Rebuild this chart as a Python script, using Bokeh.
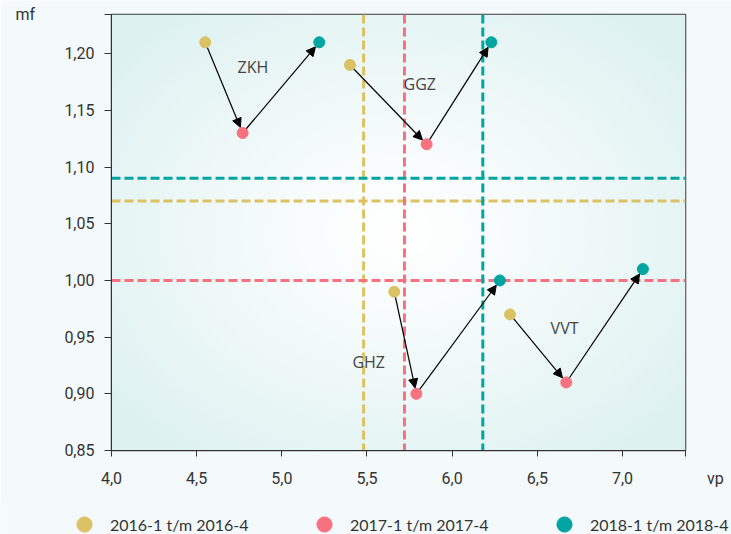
import numpy as np
from bokeh.plotting import figure
from bokeh.layouts import column
from bokeh.models import (Range1d, FixedTicker, Span, Arrow, NormalHead,
                          Legend, LegendItem, Plot)
from bokeh.core.properties import value
from bokeh.embed import file_html
from bokeh.resources import INLINE

# ---------------- data ----------------
groups = ["ZKH", "GGZ", "GHZ", "VVT"]
periods = ["2016-1 t/m 2016-4", "2017-1 t/m 2017-4", "2018-1 t/m 2018-4"]

vp_2016 = [4.55, 5.40, 5.66, 6.34]
mf_2016 = [1.21, 1.19, 0.99, 0.97]
vp_2017 = [4.77, 5.85, 5.79, 6.67]
mf_2017 = [1.13, 1.12, 0.90, 0.91]
vp_2018 = [5.22, 6.23, 6.28, 7.12]
mf_2018 = [1.21, 1.21, 1.00, 1.01]

avg_vp = [5.48, 5.72, 6.18]   # per period (vertical dashed lines)
avg_mf = [1.07, 1.00, 1.09]   # per period (horizontal dashed lines)

label_vp = [4.83, 5.81, 5.51, 6.66]
label_mf = [1.188, 1.173, 0.928, 0.958]

x_ticks = [4.0, 4.5, 5.0, 5.5, 6.0, 6.5, 7.0]
x_tick_labels = ["4,0", "4,5", "5,0", "5,5", "6,0", "6,5", "7,0"]
y_ticks = [0.85, 0.90, 0.95, 1.00, 1.05, 1.10, 1.15, 1.20]
y_tick_labels = ["0,85", "0,90", "0,95", "1,00", "1,05", "1,10", "1,15", "1,20"]

x_title = "vp"
y_title = "mf"

colors = ["#dbc265", "#f7717f", "#00a5a1"]
BG = "#f4f9fb"

# ---------------- layout ----------------
X0, X1 = 4.0, 7.37
Y0, Y1 = 0.85, 1.2345
FRAME_W, FRAME_H = 574, 436
ML, MR, MT, MB = 111, 46, 14, 50
W = ML + FRAME_W + MR
H = MT + FRAME_H + MB
LEG_H = 534 - H
SX = FRAME_W / (X1 - X0)
SY = FRAME_H / (Y1 - Y0)

p = figure(width=W, height=H, x_range=Range1d(X0, X1), y_range=Range1d(Y0, Y1),
           output_backend="svg", toolbar_location=None, title=None,
           min_border_left=ML, min_border_right=MR, min_border_top=MT,
           min_border_bottom=MB)
p.border_fill_color = BG
p.background_fill_color = "#ffffff"
p.outline_line_color = "#3d3d3d"
p.outline_line_width = 1.5
p.grid.visible = False

# radial gradient background (decoration)
yy, xx = np.mgrid[0:FRAME_H, 0:FRAME_W]
u = (xx + 0.5) / FRAME_W * 2 - 1
v = (yy + 0.5) / FRAME_H * 2 - 1
r = np.sqrt(u ** 2 + v ** 2)
t = np.clip(r / 1.3, 0, 1) ** 1.2
edge = np.array([221, 241, 241], dtype=float)
rgb = 255 * (1 - t)[..., None] + edge[None, None, :] * t[..., None]
img = np.empty((FRAME_H, FRAME_W), dtype=np.uint32)
view = img.view(dtype=np.uint8).reshape((FRAME_H, FRAME_W, 4))
view[..., 0] = rgb[..., 0].astype(np.uint8)
view[..., 1] = rgb[..., 1].astype(np.uint8)
view[..., 2] = rgb[..., 2].astype(np.uint8)
view[..., 3] = 255
p.image_rgba(image=[img], x=X0, y=Y0, dw=X1 - X0, dh=Y1 - Y0, level="image")

# dashed reference lines
for c, xv, yv in zip(colors, avg_vp, avg_mf):
    p.add_layout(Span(location=xv, dimension="height", line_color=c, line_width=3,
                      line_dash="9 4", level="underlay"))
    p.add_layout(Span(location=yv, dimension="width", line_color=c, line_width=3,
                      line_dash="9 4", level="underlay"))

# arrows
DOT_R = 6.0
def shorten(xa, ya, xb, yb):
    dx = (xb - xa) * SX
    dy = (yb - ya) * SY
    L = np.hypot(dx, dy)
    return xb - dx / L * DOT_R / SX, yb - dy / L * DOT_R / SY

series = [(vp_2016, mf_2016), (vp_2017, mf_2017), (vp_2018, mf_2018)]
for i in range(len(groups)):
    for k in range(2):
        xa, ya = series[k][0][i], series[k][1][i]
        xb, yb = series[k + 1][0][i], series[k + 1][1][i]
        xe, ye = shorten(xa, ya, xb, yb)
        p.add_layout(Arrow(end=NormalHead(size=9, fill_color="black", line_color="black",
                                          line_width=1),
                           x_start=xa, y_start=ya, x_end=xe, y_end=ye,
                           line_color="black", line_width=1.2, level="underlay"))

# dots
for c, (xs, ys) in zip(colors, series):
    p.scatter(xs, ys, size=11, fill_color=c, line_color=c)

# group labels
p.text(x=label_vp, y=label_mf, text=groups, text_align="center", text_baseline="middle",
       text_font=value("Open Sans"), text_font_size="16px", text_color="#444444")

# axes (axis titles placed as labels at the ends of the axes)
NB = "\u00a0"
xt = list(x_ticks) + [X1]
xl = list(x_tick_labels) + [NB * 15 + x_title]
yt = list(y_ticks) + [Y1]
yl = list(y_tick_labels) + [y_title + NB * 15]
for ax, ticks, labs, tout in [(p.xaxis[0], xt, xl, 6),
                              (p.yaxis[0], yt, yl, 7)]:
    ax.ticker = FixedTicker(ticks=ticks)
    ax.major_label_overrides = {tk: lb for tk, lb in zip(ticks, labs)}
    ax.minor_tick_line_color = None
    ax.major_tick_in = 0
    ax.major_tick_out = tout
    ax.axis_line_color = "#333333"
    ax.major_tick_line_color = "#333333"
    ax.major_label_text_font = "Roboto"
    ax.major_label_text_font_size = "16px"
    ax.major_label_text_color = "#333333"
p.xaxis.major_label_standoff = 12
p.yaxis.major_label_standoff = 10

# legend strip (separate figure below; its points lie outside its ranges)
q = figure(width=W, height=LEG_H, x_range=Range1d(0, 1), y_range=Range1d(0, 1),
           x_axis_type=None, y_axis_type=None,
           output_backend="svg", toolbar_location=None, title=None,
           min_border_left=0, min_border_right=0, min_border_top=0, min_border_bottom=0)
q.grid.visible = False
q.outline_line_color = None
q.border_fill_color = BG
q.background_fill_color = BG
if "frame_align" in Plot.properties():
    p.frame_align = False
    q.frame_align = False
leg_renderers = []
for c, (xs, ys) in zip(colors, series):
    leg_renderers.append(q.scatter(xs, ys, size=11, fill_color=c, line_color=c))

legend = Legend(items=[LegendItem(label=lab, renderers=[rr]) for lab, rr in zip(periods, leg_renderers)],
                orientation="horizontal", location=(65, -9),
                glyph_width=38, glyph_height=38, label_standoff=7, label_width=139,
                spacing=56, padding=0, margin=0, border_line_color=None,
                background_fill_alpha=0, label_text_font="Lato",
                label_text_font_size="16px", label_text_color="#333333")
q.add_layout(legend, "center")

layout = column(p, q, spacing=0)
open("out.html", "w").write(file_html(layout, INLINE))
